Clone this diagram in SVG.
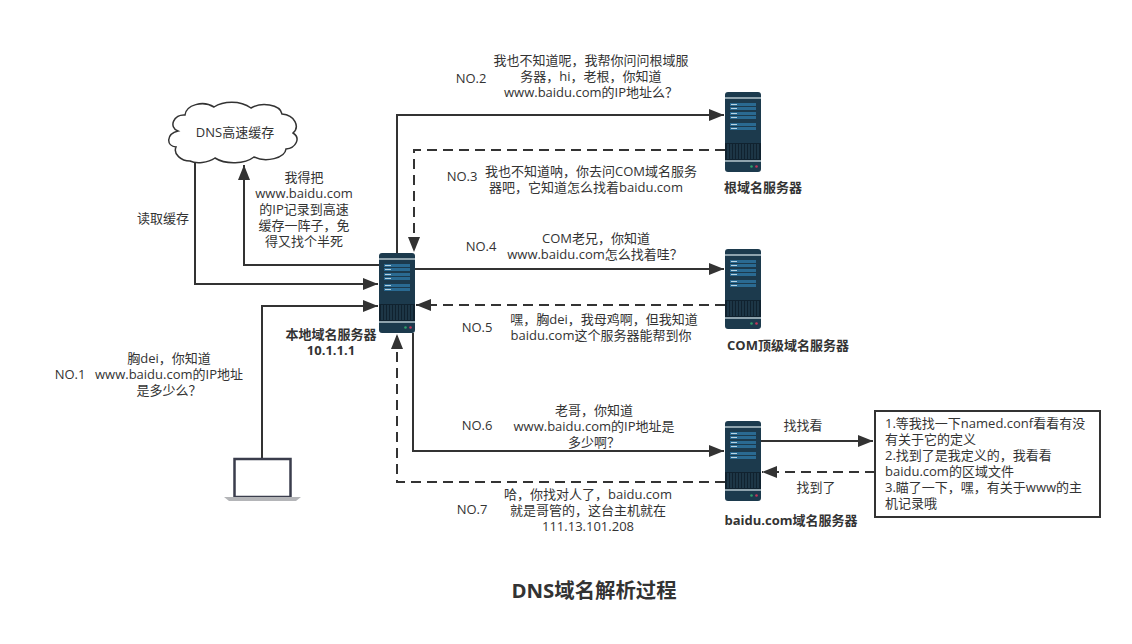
<svg xmlns="http://www.w3.org/2000/svg" xmlns:xlink="http://www.w3.org/1999/xlink" width="1132" height="644" viewBox="0 0 1132 644">
<style>
text{font-family:"Open Sans","Noto Sans CJK SC",sans-serif;font-size:13px;fill:#333;text-anchor:middle}
.b{font-weight:700}
.l{text-anchor:start}
.c{fill:none;stroke:#333;stroke-width:2;marker-end:url(#a)}
.d{stroke-dasharray:10 6}
.p{fill:#2a6a92}
.w{fill:#b9d3e2}
</style>
<defs>
<marker id="a" markerUnits="userSpaceOnUse" markerWidth="16" markerHeight="12" refX="15" refY="6" orient="auto"><path d="M0 0L15 6L0 12z" fill="#333"/></marker>
<g id="srv">
<rect width="36" height="80" rx="3" fill="#1c3a4d"/>
<rect y="5" width="36" height="2" fill="#8fa3ad"/>
<rect x="5" y="11" width="26" height="3" class="p"/><rect x="5" y="15" width="26" height="3" class="p"/>
<rect x="5" y="20" width="26" height="3" class="p"/><rect x="5" y="24" width="26" height="3" class="p"/>
<rect x="5" y="31" width="26" height="3" class="p"/><rect x="5" y="35" width="26" height="3" class="p"/>
<rect x="6" y="12" width="6" height="1" class="w"/><rect x="6" y="16" width="6" height="1" class="w"/>
<rect x="6" y="21" width="6" height="1" class="w"/><rect x="6" y="25" width="6" height="1" class="w"/>
<rect x="6" y="32" width="6" height="1" class="w"/><rect x="6" y="36" width="6" height="1" class="w"/>
<rect y="51" width="36" height="17" fill="#10222f"/>
<path d="M3 52v15M6 52v15M9 52v15M12 52v15M15 52v15M18 52v15M21 52v15M24 52v15M27 52v15M30 52v15M33 52v15" stroke="#2b4a5e" stroke-width="1"/>
<rect y="68" width="36" height="2" fill="#8fa3ad"/>
<circle cx="26.500" cy="74.500" r="1.300" fill="#2e9e6b"/><circle cx="31.500" cy="74.500" r="1.300" fill="#c2365a"/>
</g>
</defs>
<rect width="1132" height="644" fill="#fff"/>

<g id="connectors">
<path class="c" d="M397 253V115H724"/>
<path class="c d" d="M725 150H414V252"/>
<path class="c" d="M415 269H724"/>
<path class="c d" d="M725 305H416"/>
<path class="c" d="M413 333V451H724"/>
<path class="c d" d="M725 482H397V334"/>
<path class="c" d="M262 459V306H378"/>
<path class="c" d="M379 265H244V165"/>
<path class="c" d="M195 160V284H378"/>
<path class="c" d="M761 441H873"/>
<path class="c d" d="M875 472H762"/>
</g>

<g id="cache">
<path d="M190 161C181 161 173 154 176 147C166 146 166 134 178 131C168 127 174 114 185 115C186 105 203 100 214 107C223 101 240 100 251 108C261 102 280 104 282 114C295 115 300 127 293 133C301 138 296 148 286 149C285 158 266 163 254 157C245 164 226 165 215 158C208 163 196 164 190 161Z" fill="#fff" stroke="#333" stroke-width="1.500"/>
<text x="235" y="137">DNS高速缓存</text>
</g>

<g id="local-dns">
<use xlink:href="#srv" href="#srv" x="379" y="253"/>
<text class="b" x="331" y="339">本地域名服务器</text>
<text class="b" x="331" y="355">10.1.1.1</text>
</g>
<g id="root-dns">
<use xlink:href="#srv" href="#srv" x="725" y="92"/>
<text class="b" x="763" y="192">根域名服务器</text>
</g>
<g id="com-dns">
<use xlink:href="#srv" href="#srv" x="725" y="249"/>
<text class="b" x="788" y="350">COM顶级域名服务器</text>
</g>
<g id="baidu-dns">
<use xlink:href="#srv" href="#srv" x="725" y="421"/>
<text class="b" x="791" y="525">baidu.com域名服务器</text>
</g>

<g id="laptop">
<rect x="234.500" y="459" width="56" height="38" fill="#fff" stroke="#3a3d4c" stroke-width="2.500"/>
<path d="M224 497H301L296 501H229Z" fill="#b4b5b8"/>
</g>

<g id="note">
<rect x="875" y="411" width="225" height="106" fill="#fff" stroke="#333" stroke-width="2"/>
<text class="l" x="885" y="428">1.等我找一下named.conf看看有没</text>
<text class="l" x="885" y="444">有关于它的定义</text>
<text class="l" x="885" y="460">2.找到了是我定义的，我看看</text>
<text class="l" x="885" y="476">baidu.com的区域文件</text>
<text class="l" x="885" y="492">3.瞄了一下，嘿，有关于www的主</text>
<text class="l" x="885" y="508">机记录哦</text>
</g>

<g id="labels">
<text x="591" y="64.500">我也不知道呢，我帮你问问根域服</text>
<text x="591" y="80.500">务器，hi，老根，你知道</text>
<text x="591" y="96.500">www.baidu.com的IP地址么？</text>
<text x="471" y="83">NO.2</text>
<text x="462" y="181">NO.3</text>
<text x="591" y="176">我也不知道呐，你去问COM域名服务</text>
<text x="586" y="192" >器吧，它知道怎么找着baidu.com</text>
<text x="304" y="182">我得把</text>
<text x="304" y="198">www.baidu.com</text>
<text x="304" y="214">的IP记录到高速</text>
<text x="304" y="230">缓存一阵子，免</text>
<text x="304" y="246">得又找个半死</text>
<text x="163" y="223">读取缓存</text>
<text x="481" y="251">NO.4</text>
<text x="596" y="243">COM老兄，你知道</text>
<text x="595" y="259">www.baidu.com怎么找着哇？</text>
<text x="477" y="332">NO.5</text>
<text x="604" y="324">嘿，胸dei，我母鸡啊，但我知道</text>
<text x="601" y="340">baidu.com这个服务器能帮到你</text>
<text x="70" y="379">NO.1</text>
<text x="169" y="363">胸dei，你知道</text>
<text x="169" y="379">www.baidu.com的IP地址</text>
<text x="169" y="395">是多少么？</text>
<text x="477" y="430">NO.6</text>
<text x="594" y="415">老哥，你知道</text>
<text x="594" y="431">www.baidu.com的IP地址是</text>
<text x="594" y="447">多少啊？</text>
<text x="472" y="514">NO.7</text>
<text x="588" y="499">哈，你找对人了，baidu.com</text>
<text x="588" y="515">就是哥管的，这台主机就在</text>
<text x="588" y="531">111.13.101.208</text>
<text x="803" y="430">找找看</text>
<text x="816" y="492">找到了</text>
<text class="b" x="594" y="598" style="font-size:20.400px">DNS域名解析过程</text>
</g>
</svg>
